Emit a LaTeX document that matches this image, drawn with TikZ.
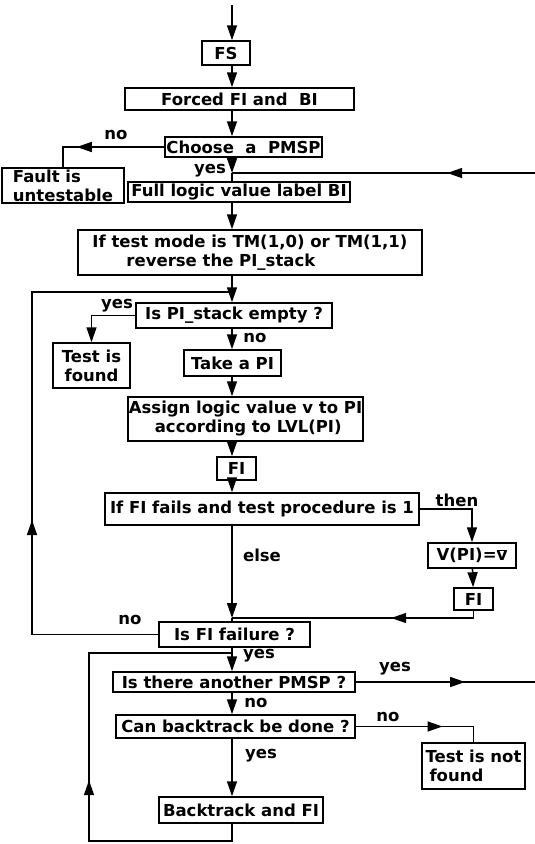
\documentclass[tikz,border=0pt]{standalone}
\usepackage{fontspec}
\setmainfont{DejaVu Sans}
\usetikzlibrary{arrows.meta,decorations.markings}
\tikzset{
  box/.style={draw, line width=1.5pt, inner sep=1pt, font=\fontsize{16.5}{19}\selectfont\bfseries},
  lbl/.style={inner sep=0pt, font=\fontsize{16.5}{19}\selectfont\bfseries},
  arr/.style={-{Triangle[length=15pt,width=10pt]}},
  midarr/.style={postaction={decorate}, decoration={markings,
      mark=at position #1 with {\arrow{Triangle[length=15pt,width=10pt]}}}},
}
\begin{document}
\begin{tikzpicture}[x=1pt, y=-1pt, line width=1.5pt]
    \useasboundingbox (0,0) rectangle (535,844);
    \coordinate (axis) at (232,0);
    % Boxes
    \node[box, minimum width=48pt, minimum height=24pt] (fs) at (226,53) {FS};
    \node[box, minimum width=229pt, minimum height=22pt] (forced) at (239.5,99) {Forced FI and~ BI};
    \node[box, minimum width=157pt, minimum height=20pt] (choose) at (243.5,147) {Choose~ a~ PMSP};
    \node[box, minimum width=122pt, minimum height=35pt, align=left] (fault) at (63,185.5) {Fault is\\untestable};
    \node[box, minimum width=222pt, minimum height=20pt] (full) at (239,192) {Full logic value label BI};
    \node[box, minimum width=344pt, minimum height=45pt, align=left] (mode) at (250,252.5)
        {If test mode is TM(1,0) or TM(1,1)\\\hspace*{34pt}reverse the PI\_stack};
    \node[box, minimum width=196pt, minimum height=25pt] (empty) at (234,315.5) {Is PI\_stack empty ?};
    \node[box, minimum width=77pt, minimum height=45pt, align=center] (found) at (91.5,365.5) {Test is\\found};
    \node[box, minimum width=97pt, minimum height=26pt] (take) at (232.5,363) {Take a PI};
    \node[box, minimum width=233pt, minimum height=44pt, align=left] (assign) at (245.5,419)
        {Assign logic value v to PI\\\hspace*{26pt}according to LVL(PI)};
    \node[box, minimum width=39pt, minimum height=23pt] (fi1) at (236.5,468.5) {FI};
    \node[box, minimum width=314pt, minimum height=32pt] (fails) at (262,509) {If FI fails and test procedure is 1};
    \node[box, minimum width=88pt, minimum height=25pt] (vpi) at (472,555.5) {V(PI)=$\overline{\mbox{v}}$};
    \node[box, minimum width=39pt, minimum height=22pt] (fi2) at (473.5,599) {FI};
    \node[box, minimum width=151pt, minimum height=25pt] (failure) at (234.5,634.5) {Is FI failure ?};
    \node[box, minimum width=242pt, minimum height=20pt] (another) at (234,682) {Is there another PMSP ?};
    \node[box, minimum width=239pt, minimum height=23pt] (canbt) at (235.5,726.5) {Can backtrack be done ?};
    \node[box, minimum width=103pt, minimum height=46pt, align=left] (notfound) at (473.5,766)
        {Test is not\\\hspace*{4pt}found};
    \node[box, minimum width=164pt, minimum height=26pt] (backtrack) at (241,810) {Backtrack and FI};
    % Branch labels
    \node[lbl] (no1) at (116,135) {no};
    \node[lbl] (yes1) at (210,171) {yes};
    \node[lbl] (yes2) at (117,306) {yes};
    \node[lbl] (no2) at (255,338) {no};
    \node[lbl] (then) at (457,500) {then};
    \node[lbl] (else) at (262,555) {else};
    \node[lbl] (no3) at (130,620) {no};
    \node[lbl] (yes3) at (259,656) {yes};
    \node[lbl] (yes4) at (395,669) {yes};
    \node[lbl] (no4) at (256,703) {no};
    \node[lbl] (no5) at (388,717) {no};
    \node[lbl] (yes5) at (261,756) {yes};
    % Junctions and edge points
    \coordinate (start) at (232,5);
    \coordinate (join1) at (232,173);
    \coordinate (redge1) at (535,173);
    \coordinate (join2) at (232,292);
    \coordinate (lcorner) at (32,292);
    \coordinate (join3) at (232,618);
    \coordinate (join4) at (232,653);
    \coordinate (bcorner) at (89,841);
    \coordinate (redge2) at (535,682);
    % Main column
    \draw[arr] (start) -- (start |- fs.north);
    \draw[arr] (fs.south -| axis) -- (forced.north -| axis);
    \draw[arr] (forced.south -| axis) -- (choose.north -| axis);
    \draw[arr] (choose.south -| axis) -- (join1);
    \draw (join1) -- (full.north -| axis);
    \draw[arr] (full.south -| axis) -- (mode.north -| axis);
    \draw[arr] (mode.south -| axis) -- (empty.north -| axis);
    \draw[arr] (empty.south -| axis) -- (take.north -| axis);
    \draw[arr] (take.south -| axis) -- (assign.north -| axis);
    \draw[arr] (assign.south -| axis) -- (fi1.north -| axis);
    \draw[arr] (fi1.south -| axis) -- (fails.north -| axis);
    \draw[arr] (fails.south -| axis) -- (join3);
    \draw (join3) -- (failure.north -| axis);
    \draw[arr] (failure.south -| axis) -- (another.north -| axis);
    \draw[arr] (another.south -| axis) -- (canbt.north -| axis);
    \draw[arr] (canbt.south -| axis) -- (backtrack.north -| axis);
    % Side branches
    \draw[midarr=0.72] (choose.west) -| (fault.north);
    \draw[arr] (empty.west) -| (found.north);
    \draw[arr] (fails.east) -| (vpi.north);
    \draw[arr] (vpi) -- (fi2);
    \draw[midarr=0.36] (fi2.south) |- (join3);
    \draw[midarr=0.65] (canbt.east) -| (notfound.north);
    % Loops
    \draw[midarr=0.29] (redge1) -- (join1);
    \draw[midarr=0.61] (another.east) -- (redge2);
    \draw[midarr=0.36] (failure.west) -| (lcorner) -- (join2);
    \draw[midarr=0.45] (backtrack.south -| axis) |- (bcorner) |- (join4);
\end{tikzpicture}
\end{document}
